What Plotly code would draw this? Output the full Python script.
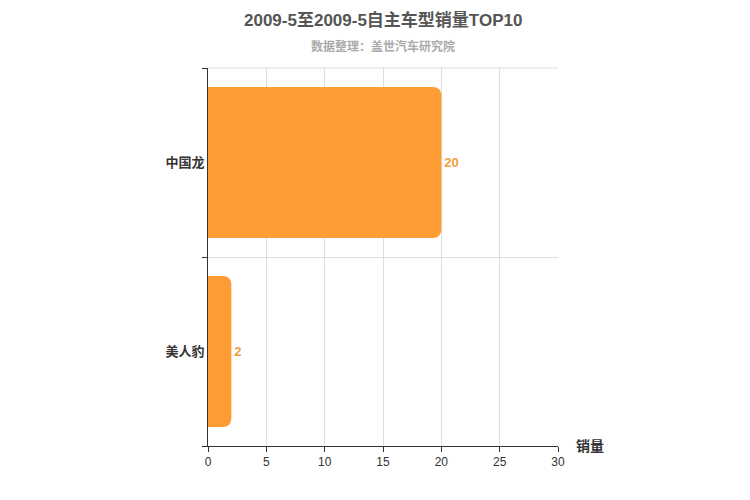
import plotly.graph_objects as go

categories = ["美人豹", "中国龙"]
values = [2, 20]
title = "2009-5至2009-5自主车型销量TOP10"
subtitle = "数据整理：盖世汽车研究院"

fig = go.Figure(go.Bar(
    y=categories, x=values, orientation="h",
    marker=dict(color="#ff9c33", line=dict(width=0)),
    width=0.8,
    text=["<b>%d</b>" % v for v in values], textposition="outside",
    textfont=dict(color="#f0a040", size=13, family="Liberation Sans"),
    cliponaxis=False,
))
fig.update_layout(
    width=750, height=500, barcornerradius=8,
    plot_bgcolor="white", paper_bgcolor="white",
    margin=dict(l=200, r=200, t=60, b=62, autoexpand=False),
    font=dict(family="Liberation Sans, Noto Sans CJK SC", color="#333"),
    showlegend=False,
)
fig.add_annotation(text="<b>%s</b>" % title, xref="paper", yref="paper", x=0.5, y=1,
                   yshift=48, xanchor="center", yanchor="middle", showarrow=False,
                   font=dict(size=17, color="#555"))
fig.add_annotation(text="<b>%s</b>" % subtitle, xref="paper", yref="paper", x=0.5, y=1,
                   yshift=22, xanchor="center", yanchor="middle", showarrow=False,
                   font=dict(size=12, color="#aaa"))
fig.update_xaxes(range=[0, 30], dtick=5, showgrid=True, gridcolor="#dddddd",
                 showline=True, linecolor="#333", automargin=False,
                 ticks="outside", ticklen=5, tickcolor="#333",
                 tickfont=dict(size=12, color="#333"), zeroline=False)
fig.update_yaxes(tickson="boundaries", showgrid=True, gridcolor="#dddddd",
                 showline=True, linecolor="#333", ticks="outside", ticklen=5,
                 tickcolor="#333", automargin=False,
                 tickprefix="<b>", ticksuffix="</b>",
                 tickfont=dict(size=13, color="#333"))
fig.add_shape(type="line", xref="paper", yref="paper", x0=0, x1=1, y0=1, y1=1,
              line=dict(color="#dddddd", width=1))
fig.add_annotation(text="<b>销量</b>", xref="paper", yref="paper", x=1.045, y=0,
                   xanchor="left", yanchor="middle", showarrow=False,
                   font=dict(size=14, color="#333"))
fig.write_html("out.html")
